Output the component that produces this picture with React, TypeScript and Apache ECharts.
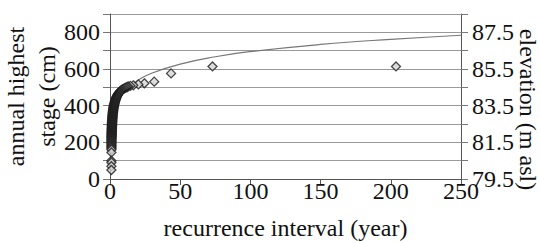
import React, { useEffect, useRef } from "react";
import * as echarts from "echarts";

// Scatter: recurrence interval (year) and annual highest stage (cm)
const recurrence = [
  203.7, 73, 43.5, 31.5, 24.5, 20.2, 16.6, 14.5, 13, 12.3, 11.4, 10.6, 9.9, 9.2,
  8.6, 8.1, 7.6, 7.2, 6.9, 6.6, 6.3, 6.0, 5.75, 5.5, 5.3, 5.1, 4.9, 4.7, 4.55,
  4.4, 4.25, 4.1, 3.95, 3.82, 3.7, 3.58, 3.46, 3.35, 3.25, 3.15, 3.05, 2.96,
  2.87, 2.79, 2.71, 2.64, 2.57, 2.5, 2.44, 2.38, 2.32, 2.26, 2.21, 2.16, 2.11,
  2.06, 2.02, 1.98, 1.94, 1.9, 1.86, 1.83, 1.8, 1.77, 1.74, 1.71, 1.68, 1.65,
  1.62, 1.6, 1.57, 1.55, 1.52, 1.5, 1.48, 1.46, 1.44, 1.42, 1.4, 1.38, 1.36,
  1.34, 1.33, 1.31, 1.3, 1.28, 1.27, 1.25, 1.24, 1.23, 1.21, 1.2, 1.19, 1.18,
  1.17, 1.16, 1.15, 1.14, 1.13, 1.12, 1.11, 1.1, 1.09, 1.08, 1.07, 1.065, 1.06,
  1.055, 1.05, 1.045, 1.04, 1.035, 1.03, 1.025, 1.02, 1.017, 1.012, 1.008,
  1.006, 1.004, 1.002,
];
const stage = [
  614, 614, 576, 531, 522, 516, 511, 508, 505, 502, 499, 496, 493, 490,
  487, 484, 481, 478, 475, 472, 469, 466, 463, 460, 457, 454, 451, 448, 445,
  442, 439, 436, 433, 430, 427, 424, 421, 418, 415, 412, 409, 406,
  403, 400, 397, 394, 391, 388, 385, 382, 379, 376, 373, 370, 367,
  364, 361, 358, 355, 352, 349, 346, 343, 340, 337, 334, 331, 328,
  325, 322, 319, 316, 313, 310, 307, 304, 301, 298, 295, 292, 289,
  286, 283, 280, 277, 274, 271, 268, 265, 262, 259, 256, 253, 250,
  247, 244, 241, 238, 235, 232, 229, 226, 222, 218, 214, 210, 206,
  202, 197, 192, 187, 182, 177, 172, 166, 160, 145, 100,
  90, 70, 49,
];

// Trend curve
const curveT = [1, 1.5, 2, 3, 5, 7, 10, 15, 20, 30, 50, 75, 100, 150, 200, 250];
const curveStage = [248, 287, 315, 355, 404, 437, 471, 511, 539, 578, 627, 667, 695, 734, 762, 784];

const xTicks = [0, 250, 50];
const stageAxis = [0, 900, 100];
const elevAxis = [79.5, 88.5, 1];

const FONT = "'Liberation Serif', 'Times New Roman', serif";
const FS = 24;

export default function App() {
  const ref = useRef<HTMLDivElement>(null);
  useEffect(() => {
    if (!ref.current) return;
    const chart = echarts.init(ref.current, undefined, { renderer: "svg" });
    const scatterData = recurrence.map((t, i) => [t, stage[i]]);
    const lineData = curveT.map((t, i) => [t, curveStage[i]]);
    chart.setOption({
      animation: false,
      backgroundColor: "#ffffff",
      textStyle: { fontFamily: FONT },
      grid: { left: 110, right: 79, top: 14, bottom: 63, containLabel: false, outerBoundsMode: "none" },
      xAxis: {
        type: "value",
        min: xTicks[0],
        max: xTicks[1],
        interval: xTicks[2],
        name: "recurrence interval (year)",
        nameLocation: "middle",
        nameGap: 38,
        nameMoveOverlap: false,
        nameTextStyle: { fontFamily: FONT, fontSize: FS, color: "#111", lineHeight: 22 },
        axisLine: { show: true, onZero: false, lineStyle: { color: "#555", width: 1 } },
        axisTick: { show: true, length: 6, lineStyle: { color: "#555" } },
        axisLabel: { fontFamily: FONT, fontSize: FS, color: "#111", margin: 0, lineHeight: 24 },
        splitLine: { show: false },
      },
      yAxis: [
        {
          type: "value",
          min: stageAxis[0],
          max: stageAxis[1],
          interval: stageAxis[2],
          name: "annual highest\nstage (cm)",
          nameLocation: "middle",
          nameRotate: 90,
          nameGap: 48,
          nameMoveOverlap: false,
          nameTextStyle: { fontFamily: FONT, fontSize: FS, color: "#111", lineHeight: 31 },
          axisLine: { show: true, lineStyle: { color: "#555", width: 1 } },
          axisTick: { show: true, length: 7, lineStyle: { color: "#777" } },
          axisLabel: {
            fontFamily: FONT,
            fontSize: FS,
            color: "#111",
            margin: 10,
            formatter: (v: number) => (v % 200 === 0 ? String(v) : ""),
          },
          splitLine: { show: true, lineStyle: { color: "#999", width: 1 } },
        },
        {
          type: "value",
          position: "right",
          min: elevAxis[0],
          max: elevAxis[1],
          interval: elevAxis[2],
          name: "elevation (m asl)",
          nameLocation: "middle",
          nameRotate: -90,
          nameGap: 57,
          nameMoveOverlap: false,
          nameTextStyle: { fontFamily: FONT, fontSize: FS, color: "#111", lineHeight: 20, padding: [0, 0, 0, 26] },
          axisLine: { show: true, lineStyle: { color: "#555", width: 1 } },
          axisTick: { show: true, length: 7, lineStyle: { color: "#777" } },
          axisLabel: {
            fontFamily: FONT,
            fontSize: FS,
            color: "#111",
            margin: 11,
            formatter: (v: number) =>
              Math.abs(((v - 79.5) % 2 + 2) % 2) < 1e-6 ? v.toFixed(1) : "",
          },
          splitLine: { show: false },
        },
      ],
      series: [
        {
          type: "line",
          data: lineData,
          smooth: true,
          showSymbol: false,
          symbol: "none",
          lineStyle: { color: "#777", width: 1.2 },
          z: 1,
        },
        {
          type: "scatter",
          data: scatterData,
          symbol: "diamond",
          symbolSize: 9,
          itemStyle: { color: "#d4d4d4", borderColor: "#1a1a1a", borderWidth: 1.3 },
          z: 2,
        },
      ],
    });
    return () => chart.dispose();
  }, []);
  return (
    <div
      ref={ref}
      style={{ position: "fixed", left: 0, top: 0, width: 540, height: 242, background: "#fff" }}
    />
  );
}
